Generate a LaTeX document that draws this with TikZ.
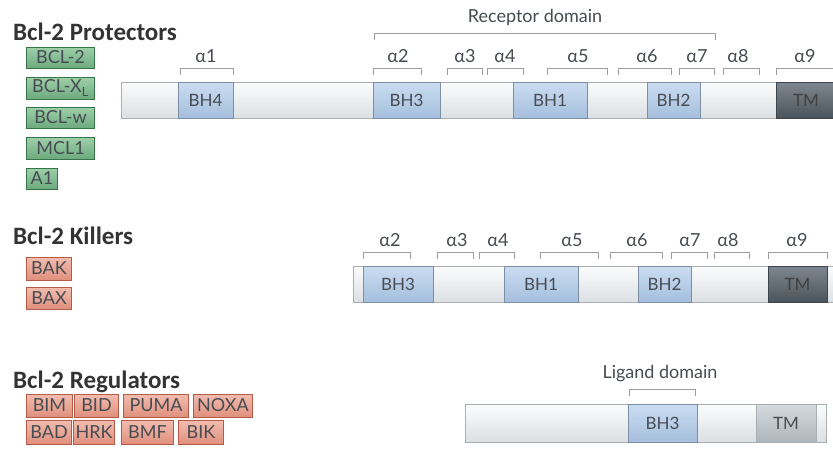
\documentclass[tikz,border=0pt]{standalone}
\usepackage{fontspec}
\setmainfont{Lato}
\newfontfamily\titlefont{Carlito}
\definecolor{barline}{HTML}{A9AEB3}
\definecolor{bartop}{HTML}{FBFCFC}
\definecolor{barbot}{HTML}{DCE0E3}
\definecolor{bhtop}{HTML}{CADCF1}
\definecolor{bhbot}{HTML}{A6BFDD}
\definecolor{bhline}{HTML}{7C8EA3}
\definecolor{tmtop}{HTML}{7E878F}
\definecolor{tmbot}{HTML}{4C545B}
\definecolor{tmline}{HTML}{3E454B}
\definecolor{tmltop}{HTML}{D4DADF}
\definecolor{tmlbot}{HTML}{AEB6BD}
\definecolor{grtop}{HTML}{9FD0AA}
\definecolor{grbot}{HTML}{6DAA7E}
\definecolor{grline}{HTML}{367548}
\definecolor{rdtop}{HTML}{F2BDB0}
\definecolor{rdbot}{HTML}{E0907D}
\definecolor{rdline}{HTML}{B55A47}
\definecolor{txt}{HTML}{474C52}
\definecolor{ttl}{HTML}{333333}
\definecolor{brkc}{HTML}{9A9EA2}
\newcommand\brak[3]{\draw[brk] (#1,#3+7) -- (#1,#3) -- (#2,#3) -- (#2,#3+7);}
\begin{document}
\begin{tikzpicture}[x=1pt,y=-1pt,
  bar/.style={draw=barline, line width=0.8pt, top color=bartop, bottom color=barbot, minimum height=36pt, inner sep=0pt},
  bh/.style={draw=bhline, line width=0.8pt, top color=bhtop, bottom color=bhbot, minimum height=36pt, inner sep=0pt, text=txt, font=\fontsize{17}{17}\selectfont},
  tm/.style={draw=tmline, line width=0.8pt, top color=tmtop, bottom color=tmbot, minimum height=36pt, inner sep=0pt, text=black!75, font=\fontsize{17}{17}\selectfont},
  tml/.style={draw=barline, line width=0.8pt, top color=tmltop, bottom color=tmlbot, minimum height=38pt, inner sep=0pt, text=txt, font=\fontsize{17}{17}\selectfont},
  gbox/.style={draw=grline, line width=1pt, top color=grtop, bottom color=grbot, anchor=west, inner sep=0pt, text=txt, font=\fontsize{18}{18}\selectfont},
  rbox/.style={draw=rdline, line width=1pt, top color=rdtop, bottom color=rdbot, anchor=west, inner sep=0pt, text=txt, font=\fontsize{18}{18}\selectfont},
  brk/.style={draw=brkc, line width=0.9pt},
  alab/.style={text=txt, font=\fontsize{18}{18}\selectfont},
  dlab/.style={text=txt, font=\fontsize{18}{18}\selectfont},
  ttlab/.style={anchor=base west, text=ttl, font=\titlefont\bfseries\fontsize{25}{25}\selectfont, inner sep=0pt}]
\useasboundingbox (0,0) rectangle (833,448);
\fill[white] (0,0) rectangle (833,448);

% ---------- titles ----------
\node[ttlab] (tprot) at (13,40) {Bcl-2 Protectors};
\node[ttlab] (tkill) at (13,244) {Bcl-2 Killers};
\node[ttlab] (treg) at (13,388) {Bcl-2 Regulators};

% ---------- protector boxes ----------
\node[gbox, minimum width=68pt, minimum height=21pt] (bcl2) at (26,57.5) {BCL-2};
\node[gbox, minimum width=68pt, minimum height=22pt] (bclxl) at (26,88) {BCL-X\textsubscript{L}};
\node[gbox, minimum width=68pt, minimum height=21pt] (bclw) at (26,117.5) {BCL-w};
\node[gbox, minimum width=68pt, minimum height=22pt] (mcl1) at (26,148) {MCL1};
\node[gbox, minimum width=31pt, minimum height=21pt] (a1) at (26,178.5) {A1};

% ---------- killer boxes ----------
\node[rbox, minimum width=45pt, minimum height=23pt] (bak) at (26,268.5) {BAK};
\node[rbox, minimum width=45pt, minimum height=22pt] (bax) at (26,298) {BAX};

% ---------- regulator boxes ----------
\node[rbox, minimum width=46pt, minimum height=23pt] (bim) at (26,405.5) {BIM};
\node[rbox, minimum width=44pt, minimum height=23pt] (bid) at (74,405.5) {BID};
\node[rbox, minimum width=65pt, minimum height=23pt] (puma) at (123,405.5) {PUMA};
\node[rbox, minimum width=59pt, minimum height=23pt] (noxa) at (193,405.5) {NOXA};
\node[rbox, minimum width=45pt, minimum height=24pt] (bad) at (26,432) {BAD};
\node[rbox, minimum width=41pt, minimum height=24pt] (hrk) at (73,432) {HRK};
\node[rbox, minimum width=52pt, minimum height=24pt] (bmf) at (121,432) {BMF};
\node[rbox, minimum width=45pt, minimum height=24pt] (bik) at (178,432) {BIK};

% ---------- row 1: protectors ----------
\node[bar, minimum width=714pt] (bar1) at (478,100) {};
\node[bh, minimum width=55pt] (p-bh4) at (205.5,100) {BH4};
\node[bh, minimum width=67pt] (p-bh3) at (406.5,100) {BH3};
\node[bh, minimum width=74pt] (p-bh1) at (550,100) {BH1};
\node[bh, minimum width=53pt] (p-bh2) at (673.5,100) {BH2};
\node[tm, minimum width=60pt] (p-tm) at (806,100) {TM};

\brak{374}{715}{33}
\node[dlab] (recl) at (535,17) {Receptor domain};
\brak{180}{233}{68}
\brak{373}{421}{68}
\brak{447}{482}{68}
\brak{487}{523}{68}
\brak{547}{607}{68}
\brak{618}{671}{68}
\brak{679}{714}{68}
\brak{723}{759}{68}
\draw[brk] (776,75) -- (776,68) -- (840,68);
\node[alab] (pa1) at (206,56) {α1};
\node[alab] (pa2) at (398,56) {α2};
\node[alab] (pa3) at (465,56) {α3};
\node[alab] (pa4) at (505,56) {α4};
\node[alab] (pa5) at (578,56) {α5};
\node[alab] (pa6) at (647,56) {α6};
\node[alab] (pa7) at (697,56) {α7};
\node[alab] (pa8) at (738,56) {α8};
\node[alab] (pa9) at (805,56) {α9};

% ---------- row 2: killers ----------
\node[bar, minimum width=482pt] (bar2) at (594,284) {};
\node[bh, minimum width=70pt] (k-bh3) at (398,284) {BH3};
\node[bh, minimum width=74pt] (k-bh1) at (541,284) {BH1};
\node[bh, minimum width=53pt] (k-bh2) at (664.5,284) {BH2};
\node[tm, minimum width=59pt] (k-tm) at (797.5,284) {TM};

\brak{363}{410}{252}
\brak{437}{473}{252}
\brak{479}{514}{252}
\brak{540}{598}{252}
\brak{610}{662}{252}
\brak{671}{707}{252}
\brak{714}{749}{252}
\brak{768}{827}{252}
\node[alab] (ka2) at (390,240) {α2};
\node[alab] (ka3) at (457,240) {α3};
\node[alab] (ka4) at (498,240) {α4};
\node[alab] (ka5) at (572,240) {α5};
\node[alab] (ka6) at (637,240) {α6};
\node[alab] (ka7) at (690,240) {α7};
\node[alab] (ka8) at (728,240) {α8};
\node[alab] (ka9) at (797,240) {α9};

% ---------- row 3: regulators ----------
\node[bar, minimum width=361pt, minimum height=38pt] (bar3) at (645.5,423) {};
\node[bh, minimum width=69pt, minimum height=38pt] (r-bh3) at (662.5,423) {BH3};
\node[tml, minimum width=60pt] (r-tm) at (786,423) {TM};
\brak{629}{695}{389}
\node[dlab] (ligl) at (660,374) {Ligand domain};
\end{tikzpicture}
\end{document}
